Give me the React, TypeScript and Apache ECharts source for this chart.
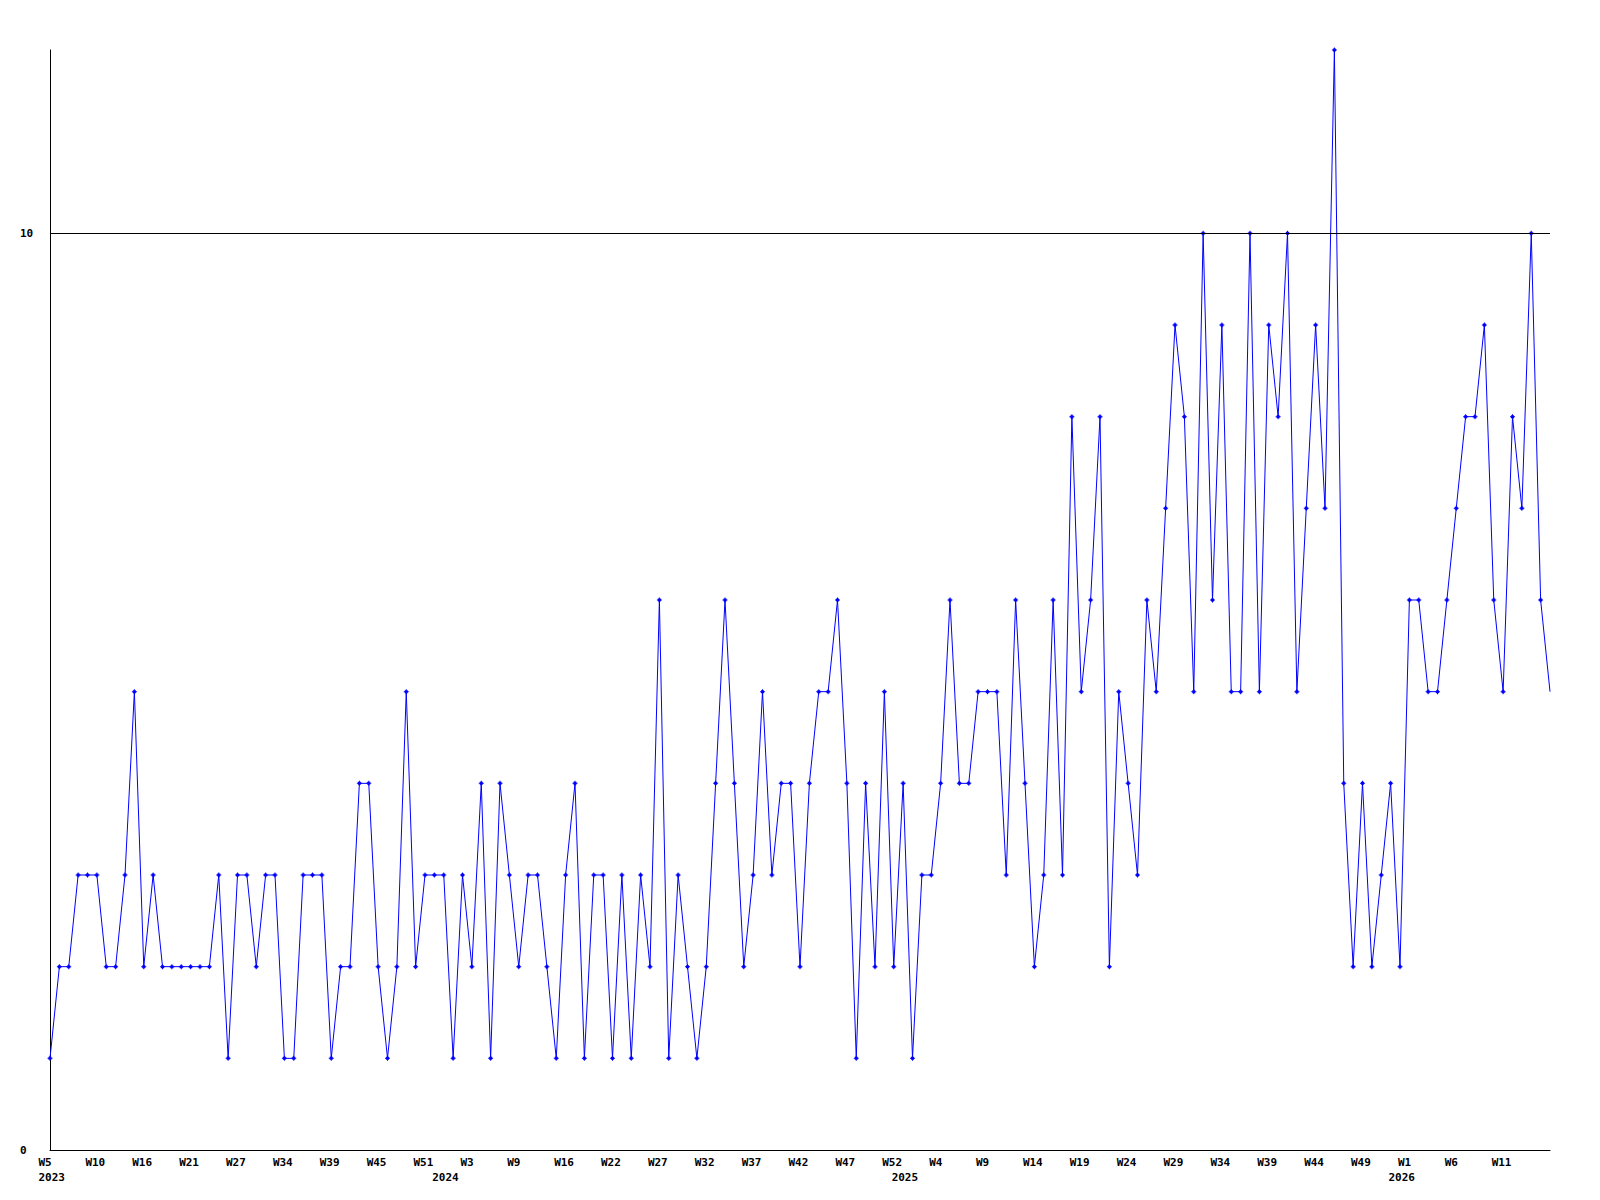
import React, { useEffect, useRef } from "react";
import * as echarts from "echarts";

// Weekly counts, one per point (161 points)
const values: number[] = [
  1, 2, 2, 3, 3, 3, 2, 2, 3, 5,
  2, 3, 2, 2, 2, 2, 2, 2, 3, 1,
  3, 3, 2, 3, 3, 1, 1, 3, 3, 3,
  1, 2, 2, 4, 4, 2, 1, 2, 5, 2,
  3, 3, 3, 1, 3, 2, 4, 1, 4, 3,
  2, 3, 3, 2, 1, 3, 4, 1, 3, 3,
  1, 3, 1, 3, 2, 6, 1, 3, 2, 1,
  2, 4, 6, 4, 2, 3, 5, 3, 4, 4,
  2, 4, 5, 5, 6, 4, 1, 4, 2, 5,
  2, 4, 1, 3, 3, 4, 6, 4, 4, 5,
  5, 5, 3, 6, 4, 2, 3, 6, 3, 8,
  5, 6, 8, 2, 5, 4, 3, 6, 5, 7,
  9, 8, 5, 10, 6, 9, 5, 5, 10, 5,
  9, 8, 10, 5, 7, 9, 7, 12, 4, 2,
  4, 2, 3, 4, 2, 6, 6, 5, 5, 6,
  7, 8, 8, 9, 6, 5, 8, 7, 10, 6,
  5,
];

// Week tick labels shown every 5th point
const weekLabels: string[] = [
  "W5", "W10", "W16", "W21", "W27", "W34", "W39", "W45", "W51",
  "W3", "W9", "W16", "W22", "W27", "W32", "W37", "W42", "W47", "W52",
  "W4", "W9", "W14", "W19", "W24", "W29", "W34", "W39", "W44", "W49",
  "W1", "W6", "W11",
];
const labelStep = 5;

// Year labels and the point index where each year starts
const yearLabels: string[] = ["2023", "2024", "2025", "2026"];
const yearIndex: number[] = [0, 42, 91, 144];

const yTickLabels: number[] = [0, 10];
const refLineValue = 10;

const categories = values.map((_, i) => String(i));

const FONT = "DejaVu Sans Mono";

export default function App() {
  const ref = useRef<HTMLDivElement>(null);
  useEffect(() => {
    if (!ref.current) return;
    const chart = echarts.init(ref.current, undefined, { renderer: "svg" });
    const labelBase = {
      fontFamily: FONT,
      fontWeight: "bold" as const,
      fontSize: 11,
      color: "#000",
    };
    const seriesData = values.map((v, i) =>
      i === values.length - 1 ? { value: v, symbol: "none" } : v
    );
    chart.setOption({
      animation: false,
      backgroundColor: "#fff",
      grid: { left: 50, right: 50, top: 50, bottom: 50, containLabel: false },
      xAxis: [
        {
          type: "category",
          data: categories,
          boundaryGap: false,
          axisLine: { show: true, lineStyle: { color: "#000", width: 1 } },
          axisTick: { show: false },
          splitLine: { show: false },
          axisLabel: {
            ...labelBase,
            align: "center",
            margin: 6,
            lineHeight: 12,
            interval: (i: number) =>
              i % labelStep === 0 && i / labelStep < weekLabels.length,
            formatter: (_v: string, i: number) => {
              const t = weekLabels[i / labelStep];
              return t ? `{a|${t}}` : "";
            },
            rich: {
              a: { ...labelBase, width: 23, align: "left", lineHeight: 12 },
            },
          },
        },
        {
          type: "category",
          data: categories,
          boundaryGap: false,
          position: "bottom",
          axisLine: { show: false },
          axisTick: { show: false },
          splitLine: { show: false },
          axisLabel: {
            ...labelBase,
            align: "center",
            margin: 21,
            lineHeight: 12,
            interval: (i: number) => yearIndex.includes(i),
            formatter: (_v: string, i: number) => {
              const k = yearIndex.indexOf(i);
              return k >= 0 ? `{a|${yearLabels[k]}}` : "";
            },
            rich: {
              a: { ...labelBase, width: 23, align: "left", lineHeight: 12 },
            },
          },
        },
      ],
      yAxis: {
        type: "value",
        min: 0,
        max: 12,
        interval: 10,
        axisLine: { show: true, lineStyle: { color: "#000", width: 1 } },
        axisTick: { show: false },
        splitLine: { show: false },
        axisLabel: {
          ...labelBase,
          align: "left",
          margin: 30,
          formatter: (v: number) => (yTickLabels.includes(v) ? String(v) : ""),
        },
      },
      series: [
        {
          type: "line",
          data: seriesData,
          xAxisIndex: 0,
          symbol: "path://M2,0H3V1H4V2H5V3H4V4H3V5H2V4H1V3H0V2H1V1H2Z",
          symbolSize: 5,
          showSymbol: true,
          showAllSymbol: true,
          lineStyle: { color: "#0000ff", width: 1 },
          itemStyle: { color: "#0000ff" },
          emphasis: { disabled: true },
          markLine: {
            silent: true,
            symbol: ["none", "none"],
            label: { show: false },
            lineStyle: { color: "#000", width: 1, type: "solid" },
            emphasis: { disabled: true },
            data: [{ yAxis: refLineValue }],
          },
        },
      ],
    });
    return () => chart.dispose();
  }, []);
  return (
    <div
      ref={ref}
      style={{ position: "fixed", left: 0, top: 0, width: 1600, height: 1200, background: "#fff" }}
    />
  );
}
